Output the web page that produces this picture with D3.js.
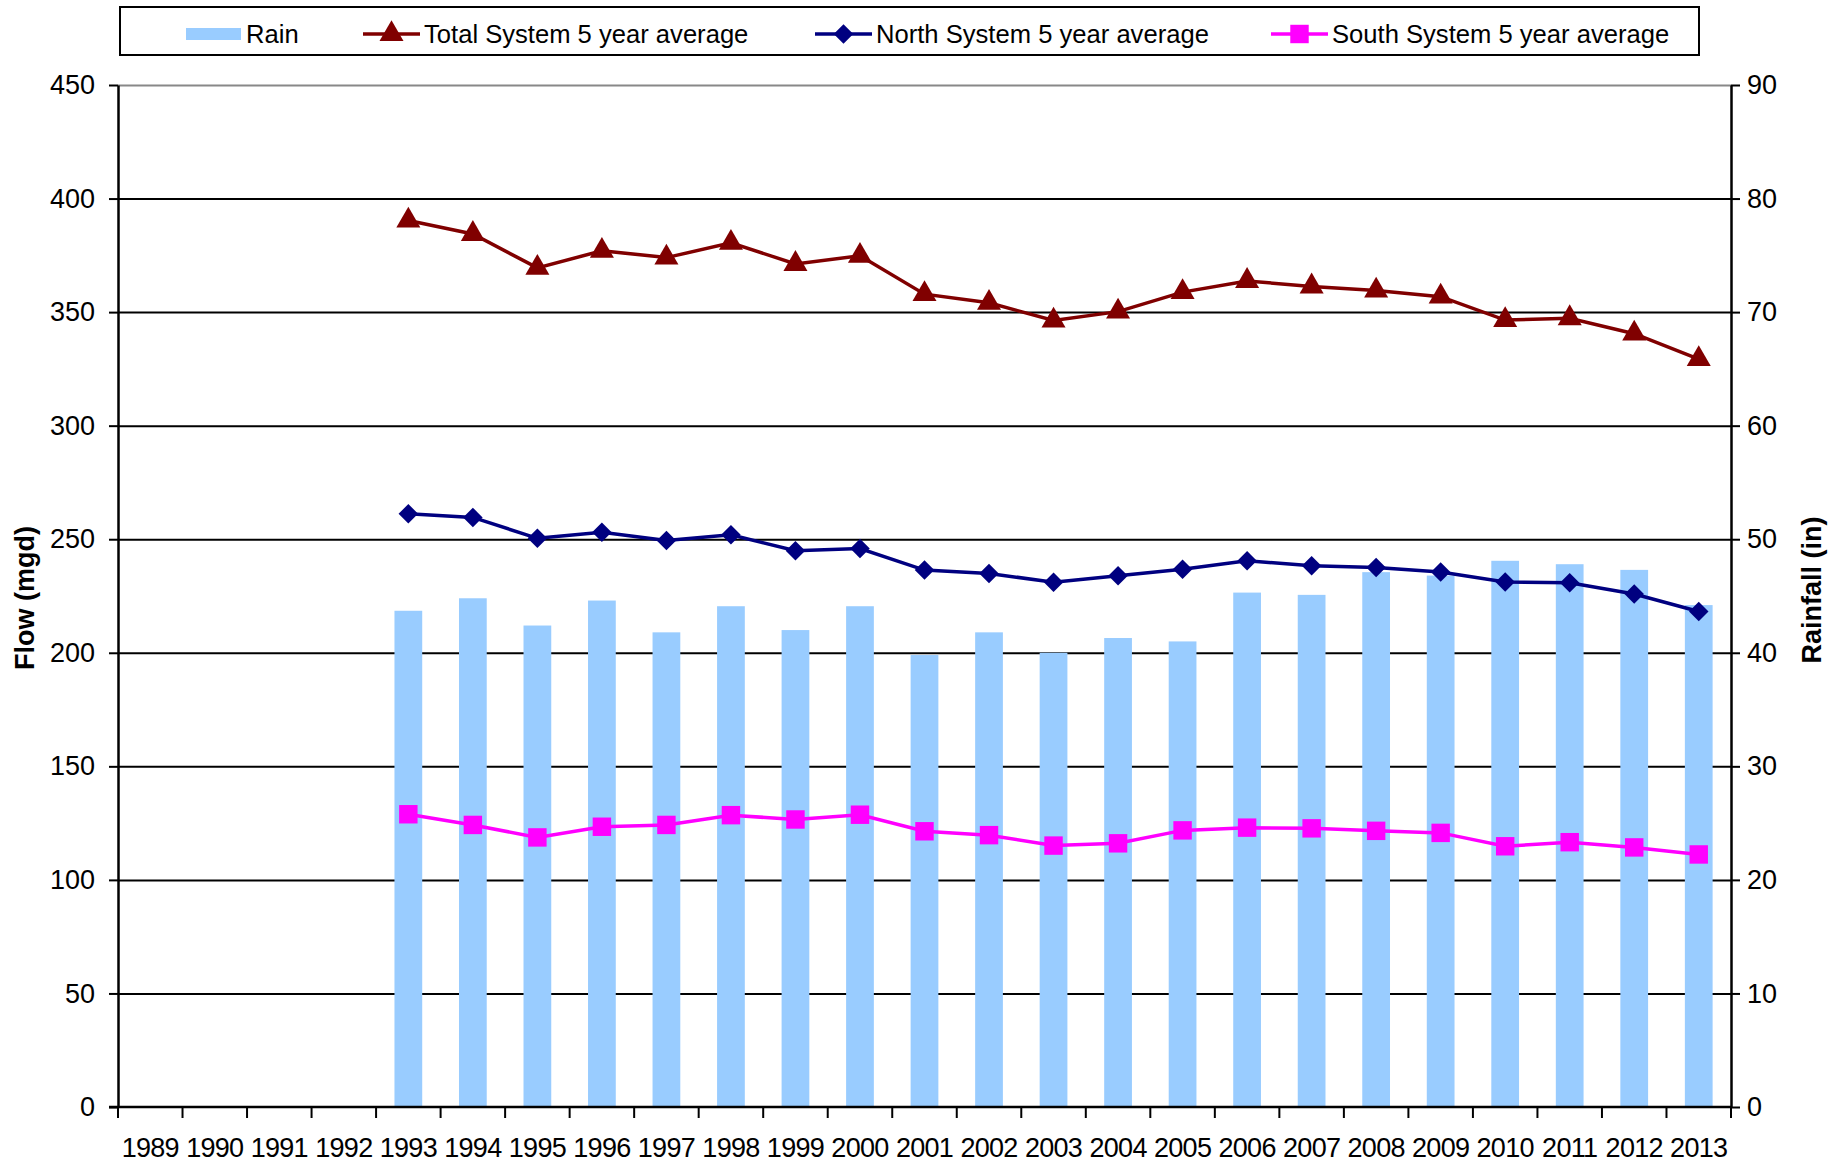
<!DOCTYPE html>
<html>
<head>
<meta charset="utf-8">
<script src="https://cdn.jsdelivr.net/npm/d3@7"></script>
<style>
  body { margin: 0; background: #fff; }
  svg { font-family: "Liberation Sans", Arial, sans-serif; }
  .tick text { fill: #000; }
</style>
</head>
<body>
<svg width="1846" height="1163"></svg>
<script>
// data
const years = ["1989","1990","1991","1992","1993","1994","1995","1996","1997","1998","1999","2000",
  "2001","2002","2003","2004","2005","2006","2007","2008","2009","2010","2011","2012","2013"];
const dataYears = years.slice(4);
const rain = [43.7,44.8,42.4,44.6,41.8,44.1,42.0,44.1,39.8,41.8,40.0,41.3,41.0,45.3,45.1,47.1,46.8,48.1,47.8,47.3,44.2];
const totalAvg = [390.3,384.4,369.5,377.0,374.0,380.5,371.2,374.8,357.9,354.1,346.3,350.2,358.8,363.7,361.3,359.5,356.8,346.5,347.3,340.5,329.3];
const northAvg = [261.2,259.6,250.4,253.1,249.4,252.0,244.9,245.9,236.4,234.9,231.1,233.9,236.8,240.5,238.3,237.6,235.6,231.2,230.8,225.9,218.2];
const southAvg = [128.9,124.2,118.7,123.4,124.2,128.5,126.6,128.7,121.4,119.7,115.1,116.1,121.8,123.0,122.7,121.6,120.7,114.8,116.6,114.3,111.2];
const flowTicks = [0,50,100,150,200,250,300,350,400,450];
const rainTicks = [0,10,20,30,40,50,60,70,80,90];

const svg = d3.select("svg");
const plotL = 118, plotR = 1731, plotT = 85, plotB = 1107;

const x = d3.scaleBand().domain(years).range([plotL, plotR]).padding(0);
const yFlow = d3.scaleLinear().domain([0, 450]).range([plotB, plotT]);
const yRain = d3.scaleLinear().domain([0, 90]).range([plotB, plotT]);

// gridlines
svg.append("g")
  .attr("transform", `translate(${plotL},0)`)
  .call(d3.axisLeft(yFlow).tickValues(flowTicks.slice(1)).tickSize(-(plotR - plotL)).tickFormat(""))
  .call(g => g.select(".domain").remove())
  .call(g => g.selectAll("line").attr("stroke", "#000").attr("stroke-width", 2))
  .call(g => g.selectAll(".tick:last-of-type line").attr("stroke", "#888"));

// rain bars
const barW = x.bandwidth() * 0.43;
svg.append("g").selectAll("rect")
  .data(dataYears)
  .join("rect")
  .attr("x", (d) => x(d) + x.bandwidth() / 2 - barW / 2)
  .attr("y", (d, i) => yRain(rain[i]))
  .attr("width", barW)
  .attr("height", (d, i) => yRain(0) - yRain(rain[i]))
  .attr("fill", "#99ccff");

// axes
const fontSize = 27;
svg.append("g")
  .attr("transform", `translate(${plotL},0)`)
  .call(d3.axisLeft(yFlow).tickValues(flowTicks).tickSize(9).tickSizeOuter(0).tickPadding(14))
  .call(g => g.select(".domain").attr("stroke-width", 2.5))
  .call(g => g.selectAll("line").attr("stroke-width", 2))
  .call(g => g.selectAll("text").attr("font-size", fontSize).attr("font-family", "Liberation Sans, Arial"));

svg.append("g")
  .attr("transform", `translate(${plotR},0)`)
  .call(d3.axisRight(yRain).tickValues(rainTicks).tickSize(9).tickSizeOuter(0).tickPadding(7))
  .call(g => g.select(".domain").attr("stroke-width", 2.5))
  .call(g => g.selectAll("line").attr("stroke-width", 2))
  .call(g => g.selectAll("text").attr("font-size", fontSize).attr("font-family", "Liberation Sans, Arial"));

const xAxis = svg.append("g")
  .attr("transform", `translate(0,${plotB})`)
  .call(d3.axisBottom(x).tickSize(0).tickPadding(31))
  .call(g => g.select(".domain").attr("stroke-width", 2.5).attr("d", `M${plotL - 9},0H${plotR}`))
  .call(g => g.selectAll("text").attr("font-size", fontSize).attr("letter-spacing", -0.7)
    .attr("font-family", "Liberation Sans, Arial"));

// tick marks on category boundaries
xAxis.selectAll(".bound")
  .data(years.concat(["end"]))
  .join("line")
  .attr("class", "bound")
  .attr("x1", (d, i) => plotL + i * x.step())
  .attr("x2", (d, i) => plotL + i * x.step())
  .attr("y1", 0).attr("y2", 11)
  .attr("stroke", "#000").attr("stroke-width", 2);

// lines and markers
const line = d3.line().x((d, i) => x(dataYears[i]) + x.bandwidth() / 2).y((d) => yFlow(d));
const series = [
  { name: "Total System 5 year average", values: totalAvg, color: "#800000", shape: d3.symbolTriangle, size: 250, rot: 0 },
  { name: "North System 5 year average", values: northAvg, color: "#000080", shape: d3.symbolSquare, size: 190, rot: 45 },
  { name: "South System 5 year average", values: southAvg, color: "#ff00ff", shape: d3.symbolSquare, size: 340, rot: 0 }
];

series.forEach(s => {
  svg.append("path")
    .datum(s.values)
    .attr("d", line)
    .attr("fill", "none")
    .attr("stroke", s.color)
    .attr("stroke-width", 3.5);
  svg.append("g").selectAll("path")
    .data(s.values)
    .join("path")
    .attr("transform", (d, i) => `translate(${x(dataYears[i]) + x.bandwidth() / 2},${yFlow(d)}) rotate(${s.rot})`)
    .attr("d", d3.symbol().type(s.shape).size(s.size))
    .attr("fill", s.color);
});

// axis titles
svg.append("text")
  .attr("transform", `translate(34,${(plotT + plotB) / 2 + 2}) rotate(-90)`)
  .attr("text-anchor", "middle")
  .attr("font-size", 27).attr("font-weight", "bold")
  .text("Flow (mgd)");

svg.append("text")
  .attr("transform", `translate(1821,${(plotT + plotB) / 2 - 6}) rotate(-90)`)
  .attr("text-anchor", "middle")
  .attr("font-size", 27).attr("font-weight", "bold")
  .text("Rainfall (in)");

// legend
const legend = svg.append("g");
legend.append("rect")
  .attr("x", 120).attr("y", 7).attr("width", 1579).attr("height", 48)
  .attr("fill", "#fff").attr("stroke", "#000").attr("stroke-width", 2);

const ly = 34;
const legendFont = 25.6;
legend.append("rect").attr("x", 186).attr("y", ly - 6).attr("width", 55).attr("height", 12).attr("fill", "#99ccff");
legend.append("text").attr("x", 246).attr("y", ly + 9).attr("font-size", legendFont).text("Rain");

const legendX = [363, 815, 1271];
series.forEach((s, i) => {
  const x0 = legendX[i];
  legend.append("line").attr("x1", x0).attr("x2", x0 + 57).attr("y1", ly).attr("y2", ly)
    .attr("stroke", s.color).attr("stroke-width", 3.5);
  legend.append("path")
    .attr("transform", `translate(${x0 + 28.5},${ly}) rotate(${s.rot})`)
    .attr("d", d3.symbol().type(s.shape).size(s.size))
    .attr("fill", s.color);
  legend.append("text").attr("x", x0 + 61).attr("y", ly + 9)
    .attr("font-size", legendFont)
    .text(s.name);
});
</script>
</body>
</html>
